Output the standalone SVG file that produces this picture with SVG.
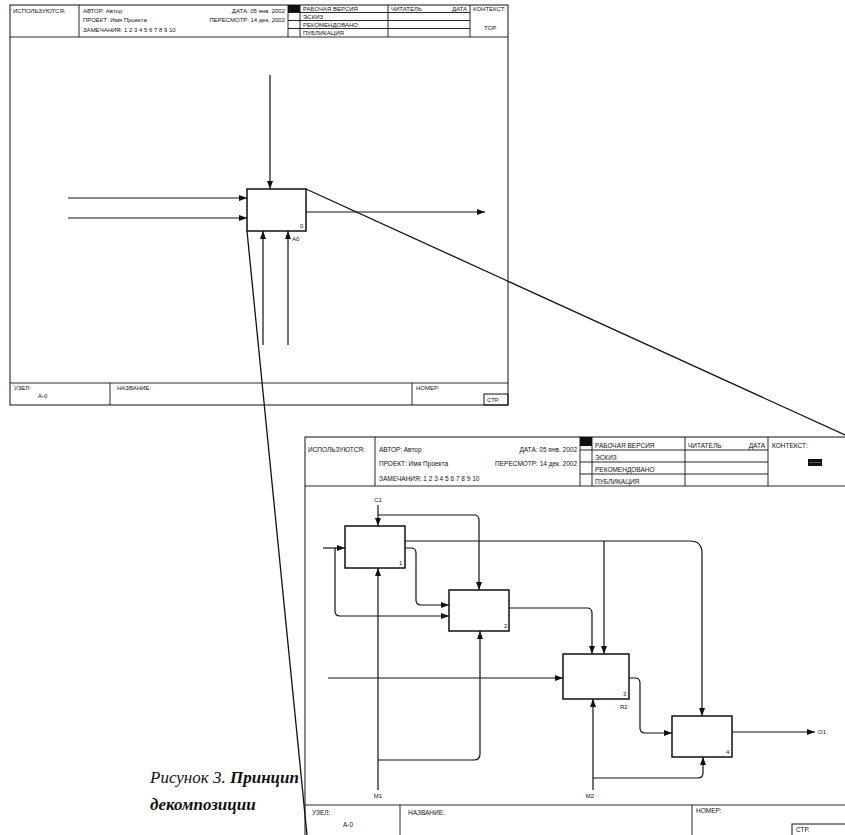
<svg xmlns="http://www.w3.org/2000/svg" width="845" height="835" viewBox="0 0 845 835">
<style>
.fr{fill:none;stroke:#111;stroke-width:1}
.ln{stroke:#111;stroke-width:0.9;fill:none}
.t{font-family:"Liberation Sans",Arial,sans-serif;font-size:6px;fill:#111}
.tb{font-family:"Liberation Sans",Arial,sans-serif;font-size:6.5px;fill:#111}
.box{fill:#fff;stroke:#111;stroke-width:1.5}
.c{fill:none;stroke:#111;stroke-width:1.2}
.ca{fill:none;stroke:#111;stroke-width:1.2;marker-end:url(#ah)}
.lbl{font-family:"Liberation Sans",Arial,sans-serif;font-size:6px;fill:#111}
.cap{font-family:"Liberation Serif","Times New Roman",serif;font-size:17px;font-style:italic;fill:#111}
</style>
<defs>
<marker id="ah" markerWidth="9" markerHeight="7" refX="8" refY="3" orient="auto" markerUnits="userSpaceOnUse">
<path d="M0,0 L8,3 L0,6 z" fill="#111"/>
</marker>
</defs>
<rect width="845" height="835" fill="#fff"/>

<!-- TOP FRAME -->
<g id="top-frame">
<rect class="fr" x="10" y="5" width="498" height="400"/>
<line class="ln" x1="10" y1="37" x2="508" y2="37"/>
<line class="ln" x1="79" y1="5" x2="79" y2="37"/>
<line class="ln" x1="288" y1="5" x2="288" y2="37"/>
<rect x="288" y="5" width="12" height="7.5" fill="#111"/>
<line class="ln" x1="300" y1="5" x2="300" y2="37"/>
<line class="ln" x1="388" y1="5" x2="388" y2="37"/>
<line class="ln" x1="470" y1="5" x2="470" y2="37"/>
<line class="ln" x1="288" y1="12.5" x2="470" y2="12.5"/>
<line class="ln" x1="288" y1="20.5" x2="470" y2="20.5"/>
<line class="ln" x1="288" y1="28.5" x2="470" y2="28.5"/>
<text class="t" x="13" y="13">ИСПОЛЬЗУЮТСЯ:</text>
<text class="t" x="83" y="13">АВТОР: Автор</text>
<text class="t" x="285" y="13" text-anchor="end">ДАТА: 05 янв. 2002</text>
<text class="t" x="83" y="22">ПРОЕКТ: Имя Проекта</text>
<text class="t" x="285" y="22" text-anchor="end">ПЕРЕСМОТР: 14 дек. 2002</text>
<text class="t" x="83" y="32">ЗАМЕЧАНИЯ: 1 2 3 4 5 6 7 8 9 10</text>
<text class="t" x="303" y="11">РАБОЧАЯ ВЕРСИЯ</text>
<text class="t" x="303" y="19">ЭСКИЗ</text>
<text class="t" x="303" y="27">РЕКОМЕНДОВАНО</text>
<text class="t" x="303" y="35">ПУБЛИКАЦИЯ</text>
<text class="t" x="391" y="11">ЧИТАТЕЛЬ</text>
<text class="t" x="467" y="11" text-anchor="end">ДАТА</text>
<text class="t" x="473" y="11">КОНТЕКСТ:</text>
<text class="t" x="484" y="30">TOP</text>
<line class="ln" x1="10" y1="383" x2="508" y2="383"/>
<line class="ln" x1="110" y1="383" x2="110" y2="405"/>
<line class="ln" x1="412" y1="383" x2="412" y2="405"/>
<rect class="fr" x="484" y="394" width="24" height="11"/>
<text class="t" x="14" y="390">УЗЕЛ:</text>
<text class="t" x="38" y="398">A-0</text>
<text class="t" x="117" y="390">НАЗВАНИЕ:</text>
<text class="t" x="416" y="390">НОМЕР:</text>
<text class="t" x="487" y="402">СТР.</text>
</g>

<!-- BOTTOM FRAME -->
<g id="bottom-frame">
<rect class="fr" x="305" y="437" width="550" height="410"/>
<line class="ln" x1="305" y1="486" x2="845" y2="486"/>
<line class="ln" x1="375" y1="437" x2="375" y2="486"/>
<line class="ln" x1="580" y1="437" x2="580" y2="486"/>
<rect x="580" y="437" width="12" height="9" fill="#111"/>
<line class="ln" x1="592" y1="437" x2="592" y2="486"/>
<line class="ln" x1="685" y1="437" x2="685" y2="486"/>
<line class="ln" x1="768" y1="437" x2="768" y2="486"/>
<line class="ln" x1="580" y1="450" x2="768" y2="450"/>
<line class="ln" x1="580" y1="462" x2="768" y2="462"/>
<line class="ln" x1="580" y1="474" x2="768" y2="474"/>
<text class="tb" x="308" y="452">ИСПОЛЬЗУЮТСЯ:</text>
<text class="tb" x="379" y="452">АВТОР: Автор</text>
<text class="tb" x="577" y="452" text-anchor="end">ДАТА: 05 янв. 2002</text>
<text class="tb" x="379" y="466">ПРОЕКТ: Имя Проекта</text>
<text class="tb" x="577" y="466" text-anchor="end">ПЕРЕСМОТР: 14 дек. 2002</text>
<text class="tb" x="379" y="481">ЗАМЕЧАНИЯ: 1 2 3 4 5 6 7 8 9 10</text>
<text class="tb" x="595" y="448">РАБОЧАЯ ВЕРСИЯ</text>
<text class="tb" x="595" y="460">ЭСКИЗ</text>
<text class="tb" x="595" y="472">РЕКОМЕНДОВАНО</text>
<text class="tb" x="595" y="484">ПУБЛИКАЦИЯ</text>
<text class="tb" x="688" y="448">ЧИТАТЕЛЬ</text>
<text class="tb" x="765" y="448" text-anchor="end">ДАТА</text>
<text class="tb" x="772" y="448">КОНТЕКСТ:</text>
<rect x="808" y="459" width="14" height="7" fill="#111"/>
<line x1="809" y1="462.5" x2="821" y2="462.5" stroke="#888" stroke-width="0.6"/>
<line class="ln" x1="305" y1="805" x2="845" y2="805"/>
<line class="ln" x1="400" y1="805" x2="400" y2="835"/>
<line class="ln" x1="692" y1="805" x2="692" y2="835"/>
<rect class="fr" x="792" y="824" width="60" height="15"/>
<text class="tb" x="312" y="815">УЗЕЛ:</text>
<text class="tb" x="343" y="827">A-0</text>
<text class="tb" x="408" y="815">НАЗВАНИЕ:</text>
<text class="tb" x="696" y="813">НОМЕР:</text>
<text class="tb" x="796" y="832">СТР.</text>
</g>

<!-- TOP DIAGRAM NODE -->
<g id="node-A0">
<rect class="box" x="247" y="189" width="59" height="42"/>
<text class="lbl" x="300" y="228">0</text>
<text class="lbl" x="292" y="241">A0</text>
</g>

<!-- BOTTOM DIAGRAM NODES -->
<g id="node-1">
<rect class="box" x="345" y="526" width="60" height="42"/>
<text class="lbl" x="399" y="565">1</text>
</g>
<g id="node-2">
<rect class="box" x="449" y="590" width="60" height="41"/>
<text class="lbl" x="504" y="628">2</text>
</g>
<g id="node-3">
<rect class="box" x="563" y="654" width="66" height="45"/>
<text class="lbl" x="623" y="696">3</text>
<text class="lbl" x="620" y="709">R2</text>
</g>
<g id="node-4">
<rect class="box" x="672" y="716" width="60" height="41"/>
<text class="lbl" x="726" y="754">4</text>
</g>

<!-- CONNECTORS -->
<g id="connectors">
<!-- top diagram -->
<path class="ca" d="M270,75 L270,189"/>
<path class="ca" d="M68,198 L247,198"/>
<path class="ca" d="M68,218 L247,218"/>
<path class="ca" d="M306,212 L485,212"/>
<path class="ca" d="M263,345 L263,231"/>
<path class="ca" d="M288,345 L288,231"/>
<!-- zoom lines -->
<line x1="306" y1="189" x2="845" y2="435" stroke="#111" stroke-width="1.3"/>
<line x1="247" y1="231" x2="307" y2="835" stroke="#111" stroke-width="1.3"/>
<!-- bottom diagram -->
<path class="ca" d="M378,505 L378,526"/>
<path class="ca" d="M378,515 L474,515 Q479,515 479,520 L479,590"/>
<path class="ca" d="M405,541 L690,541 Q702,541 702,553 L702,716"/>
<path class="ca" d="M604,541 L604,654"/>
<path class="ca" d="M405,548 L411,548 Q416,548 416,553 L416,600 Q416,605 421,605 L449,605"/>
<path class="ca" d="M323,548 L345,548"/>
<path class="ca" d="M335,548 L335,611 Q335,616 340,616 L449,616"/>
<path class="ca" d="M378,790 L378,568"/>
<path class="ca" d="M378,760 L474,760 Q480,760 480,754 L480,631"/>
<path class="ca" d="M509,608 L587,608 Q592,608 592,613 L592,654"/>
<path class="ca" d="M328,678 L563,678"/>
<path class="ca" d="M629,678 L635,678 Q640,678 640,683 L640,728 Q640,733 645,733 L672,733"/>
<path class="ca" d="M732,732 L815,732"/>
<path class="ca" d="M593,790 L593,699"/>
<path class="ca" d="M593,778 L698,778 Q703,778 703,773 L703,757"/>
<text class="lbl" x="378" y="502" text-anchor="middle">C1</text>
<text class="lbl" x="378" y="798" text-anchor="middle">M1</text>
<text class="lbl" x="590" y="798" text-anchor="middle">M2</text>
<text class="lbl" x="818" y="734">O1</text>
</g>

<!-- CAPTION -->
<text class="cap" x="150" y="783">Рисунок 3. <tspan font-weight="bold">Принцип</tspan></text>
<text class="cap" x="150" y="810" font-weight="bold">декомпозиции</text>
</svg>
